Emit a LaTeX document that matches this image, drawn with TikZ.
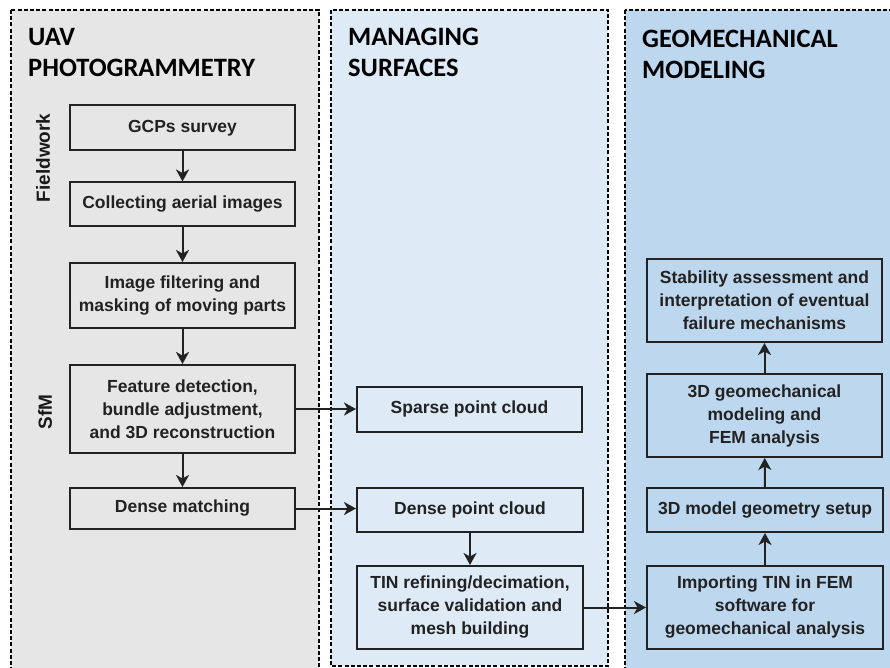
\documentclass[tikz,border=0pt]{standalone}
\usepackage{fontspec}
\setmainfont{Liberation Sans}
\newfontfamily\headfont{Carlito}
\usepackage{tikz}
\usetikzlibrary{arrows.meta,positioning}

\definecolor{panelgray}{HTML}{E6E6E6}
\definecolor{panellight}{HTML}{DEEAF6}
\definecolor{panelblue}{HTML}{BDD7EE}
\definecolor{inkgray}{HTML}{222222}

\tikzset{
  panel/.style={draw=black, line width=1.1pt, dash pattern=on 4pt off 2.2pt},
  heading/.style={anchor=north west, inner sep=0pt, align=left,
    font=\headfont\bfseries\fontsize{26.5}{31}\selectfont},
  stepbox/.style={draw=inkgray, line width=2pt, align=center, inner sep=2pt,
    text=inkgray, font=\bfseries\fontsize{17.5}{23}\selectfont},
  sidelabel/.style={rotate=90, text=black!90, inner sep=0pt,
    font=\bfseries\fontsize{19}{22}\selectfont},
  arr/.style={draw=inkgray, line width=2pt,
    -{Stealth[length=12pt,width=13pt,inset=3.5pt]}}
}

\begin{document}
\begin{tikzpicture}[x=1pt, y=1pt, yscale=-1]
  \useasboundingbox (0,0) rectangle (890,668);
  \clip (0,0) rectangle (890,668);

  % panels
  \path[panel, fill=panelgray]  (11,10)  rectangle (319,690);
  \path[panel, fill=panellight] (331,10) rectangle (608,666);
  \path[panel, fill=panelblue]  (625,10) rectangle (910,690);

  \node[heading] (h1) at (28,28)  {UAV\\PHOTOGRAMMETRY};
  \node[heading] (h2) at (348,28) {MANAGING\\SURFACES};
  \node[heading] (h3) at (642,30) {GEOMECHANICAL\\MODELING};

  \node[sidelabel] (fieldwork) at (43,158) {Fieldwork};
  \node[sidelabel] (sfm) at (45,412) {SfM};

  % UAV photogrammetry
  \node[stepbox, minimum width=225pt, minimum height=45pt] (gcps) at (182.5,128) {GCPs survey};
  \node[stepbox, minimum width=225pt, minimum height=43pt] (collect) at (182.5,204) {Collecting aerial images};
  \node[stepbox, minimum width=225pt, minimum height=65pt] (filter) at (182.5,295.5)
    {Image filtering and\\masking of moving parts};
  \node[stepbox, minimum width=225pt, minimum height=88pt] (feature) at (182.5,409)
    {Feature detection,\\bundle adjustment,\\and 3D reconstruction};
  \node[stepbox, minimum width=225pt, minimum height=41pt] (densem) at (182.5,508.5) {Dense matching};

  % managing surfaces
  \node[stepbox, minimum width=225pt, minimum height=45pt] (sparse) at (469.5,409) {Sparse point cloud};
  \node[stepbox, minimum width=226pt, minimum height=44pt] (densec) at (470,510) {Dense point cloud};
  \node[stepbox, minimum width=226pt, minimum height=83pt] (tin) at (470,607.5)
    {TIN refining/decimation,\\surface validation and\\mesh building};

  % geomechanical modeling
  \node[stepbox, minimum width=235pt, minimum height=83pt] (stab) at (764.5,300.5)
    {Stability assessment and\\interpretation of eventual\\failure mechanisms};
  \node[stepbox, minimum width=235pt, minimum height=83pt] (geo3d) at (764.5,415.5)
    {3D geomechanical\\modeling and\\FEM analysis};
  \node[stepbox, minimum width=236pt, minimum height=44pt] (setup) at (765,510) {3D model geometry setup};
  \node[stepbox, minimum width=236pt, minimum height=83pt] (import) at (765,607.5)
    {Importing TIN in FEM\\software for\\geomechanical analysis};

  % connectors
  \draw[arr] (gcps) -- (collect);
  \draw[arr] (collect) -- (filter);
  \draw[arr] (filter) -- (feature);
  \draw[arr] (feature) -- (densem);
  \draw[arr] (feature) -- (sparse);
  \draw[arr] (densem.east) -- (densem.east -| densec.west);
  \draw[arr] (densec) -- (tin);
  \draw[arr] (tin) -- (import);
  \draw[arr] (import) -- (setup);
  \draw[arr] (setup) -- (geo3d);
  \draw[arr] (geo3d) -- (stab);
\end{tikzpicture}
\end{document}
